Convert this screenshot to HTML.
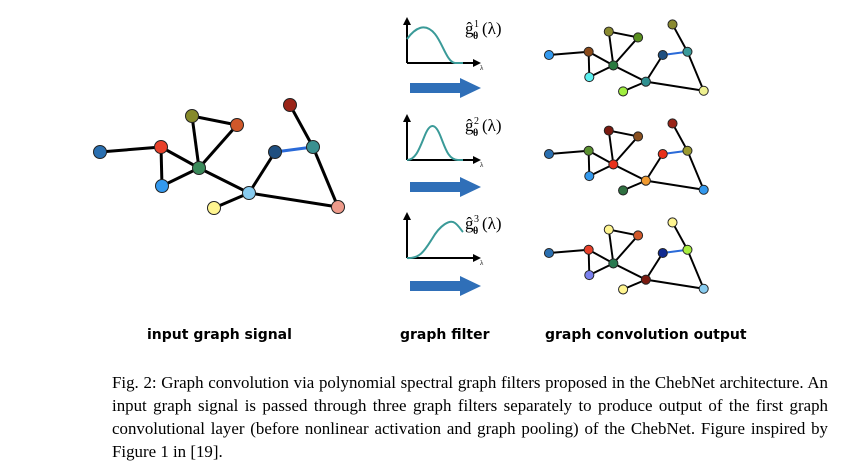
<!DOCTYPE html>
<html><head><meta charset="utf-8"><style>
body{margin:0;background:#fff;width:850px;height:473px;overflow:hidden;position:relative}
.lab{position:absolute;top:327px;font-family:"DejaVu Sans","Liberation Sans",sans-serif;font-weight:bold;font-size:14px;color:#000}
.cap{position:absolute;left:112px;top:371px;width:716px;font-family:"Liberation Serif",serif;font-size:16.9px;line-height:23px;text-align:justify;color:#000}
</style></head><body>
<svg width="850" height="473" style="position:absolute;left:0;top:0">
<defs>
<g id="edges" stroke="#000" stroke-width="3" fill="none">
<line x1="100" y1="152" x2="161" y2="147"/><line x1="161" y1="147" x2="199" y2="168"/>
<line x1="161" y1="147" x2="162" y2="186"/><line x1="162" y1="186" x2="199" y2="168"/>
<line x1="192" y1="116" x2="199" y2="168"/><line x1="192" y1="116" x2="237" y2="125"/>
<line x1="237" y1="125" x2="199" y2="168"/><line x1="199" y1="168" x2="249" y2="193"/>
<line x1="249" y1="193" x2="214" y2="208"/><line x1="249" y1="193" x2="338" y2="207"/>
<line x1="249" y1="193" x2="275" y2="152"/><line x1="313" y1="147" x2="290" y2="105"/>
<line x1="313" y1="147" x2="338" y2="207"/>
<line x1="275" y1="152" x2="313" y2="147" stroke="#2a6ad8"/>
</g>
</defs>
<use href="#edges"/>
<g stroke="#222" stroke-width="1">
<circle cx="100" cy="152" r="6.5" fill="#2a6fb0"/><circle cx="161" cy="147" r="6.5" fill="#e8412a"/>
<circle cx="192" cy="116" r="6.5" fill="#868a2a"/><circle cx="237" cy="125" r="6.5" fill="#d0582a"/>
<circle cx="199" cy="168" r="6.5" fill="#3a8a5a"/><circle cx="162" cy="186" r="6.5" fill="#3399ee"/>
<circle cx="249" cy="193" r="6.5" fill="#88ccf0"/><circle cx="214" cy="208" r="6.5" fill="#fff590"/>
<circle cx="275" cy="152" r="6.5" fill="#1f4f80"/><circle cx="313" cy="147" r="6.5" fill="#3a9090"/>
<circle cx="290" cy="105" r="6.5" fill="#9a2418"/><circle cx="338" cy="207" r="6.5" fill="#ee9a8a"/>
</g>
<g transform="translate(484,-43.8) scale(0.65)">
<use href="#edges"/>
<g stroke="#222" stroke-width="1.5">
<circle cx="100" cy="152" r="7" fill="#3399ee"/><circle cx="161" cy="147" r="7" fill="#8a4a1a"/>
<circle cx="192" cy="116" r="7" fill="#8a8a30"/><circle cx="237" cy="125" r="7" fill="#5a9020"/>
<circle cx="199" cy="168" r="7" fill="#2a7a40"/><circle cx="162" cy="186" r="7" fill="#5af0f0"/>
<circle cx="249" cy="193" r="7" fill="#2f9090"/><circle cx="214" cy="208" r="7" fill="#a0ee40"/>
<circle cx="275" cy="152" r="7" fill="#1f4f80"/><circle cx="313" cy="147" r="7" fill="#3a9a9a"/>
<circle cx="290" cy="105" r="7" fill="#8a8a30"/><circle cx="338" cy="207" r="7" fill="#eef090"/>
</g></g>
<g transform="translate(484,55.2) scale(0.65)">
<use href="#edges"/>
<g stroke="#222" stroke-width="1.5">
<circle cx="100" cy="152" r="7" fill="#2a6fb0"/><circle cx="161" cy="147" r="7" fill="#5a9030"/>
<circle cx="192" cy="116" r="7" fill="#7a1a10"/><circle cx="237" cy="125" r="7" fill="#8a5020"/>
<circle cx="199" cy="168" r="7" fill="#e8301a"/><circle cx="162" cy="186" r="7" fill="#3399ee"/>
<circle cx="249" cy="193" r="7" fill="#f09a30"/><circle cx="214" cy="208" r="7" fill="#2f7040"/>
<circle cx="275" cy="152" r="7" fill="#e8301a"/><circle cx="313" cy="147" r="7" fill="#9a9a30"/>
<circle cx="290" cy="105" r="7" fill="#9a2418"/><circle cx="338" cy="207" r="7" fill="#3399ee"/>
</g></g>
<g transform="translate(484,154.2) scale(0.65)">
<use href="#edges"/>
<g stroke="#222" stroke-width="1.5">
<circle cx="100" cy="152" r="7" fill="#2a6fb0"/><circle cx="161" cy="147" r="7" fill="#e8412a"/>
<circle cx="192" cy="116" r="7" fill="#fff590"/><circle cx="237" cy="125" r="7" fill="#d0582a"/>
<circle cx="199" cy="168" r="7" fill="#2a7a50"/><circle cx="162" cy="186" r="7" fill="#7a80ee"/>
<circle cx="249" cy="193" r="7" fill="#7a1a10"/><circle cx="214" cy="208" r="7" fill="#fff590"/>
<circle cx="275" cy="152" r="7" fill="#102a90"/><circle cx="313" cy="147" r="7" fill="#a8ee40"/>
<circle cx="290" cy="105" r="7" fill="#fff590"/><circle cx="338" cy="207" r="7" fill="#88ccf0"/>
</g></g>
<g>
<g stroke="#000" stroke-width="2" fill="#000">
<line x1="407" y1="63" x2="475" y2="63"/><polygon points="481,63 473,59 473,67" stroke="none"/>
<line x1="407" y1="63" x2="407" y2="23"/><polygon points="407,17 403,25 411,25" stroke="none"/>
</g>
<path d="M407,39 C415,28 425,22 435,34 C443,44 447,62 455,63 L463,63" stroke="#3a9a98" stroke-width="2" fill="none"/>
<text x="480" y="70" font-family="Liberation Serif,serif" font-size="7">λ</text>
<path d="M410,83 L460,83 L460,78 L481,88 L460,98 L460,93 L410,93 Z" fill="#2f6fb8"/>
</g>
<g transform="translate(0,97)">
<g stroke="#000" stroke-width="2" fill="#000">
<line x1="407" y1="63" x2="475" y2="63"/><polygon points="481,63 473,59 473,67" stroke="none"/>
<line x1="407" y1="63" x2="407" y2="23"/><polygon points="407,17 403,25 411,25" stroke="none"/>
</g>
<path d="M407,63 C416,63 420,50 425,38 C430,26 435,26 440,38 C445,50 448,63 458,63 L463,63" stroke="#3a9a98" stroke-width="2" fill="none"/>
<text x="480" y="70" font-family="Liberation Serif,serif" font-size="7">λ</text>
<path d="M410,85 L460,85 L460,80 L481,90 L460,100 L460,95 L410,95 Z" fill="#2f6fb8"/>
</g>
<g transform="translate(0,195)">
<g stroke="#000" stroke-width="2" fill="#000">
<line x1="407" y1="63" x2="475" y2="63"/><polygon points="481,63 473,59 473,67" stroke="none"/>
<line x1="407" y1="63" x2="407" y2="23"/><polygon points="407,17 403,25 411,25" stroke="none"/>
</g>
<path d="M407,63 C420,64 425,55 432,44 C440,30 450,24 455,28 C459,31 461,35 463,37" stroke="#3a9a98" stroke-width="2" fill="none"/>
<text x="480" y="70" font-family="Liberation Serif,serif" font-size="7">λ</text>
<path d="M410,86 L460,86 L460,81 L481,91 L460,101 L460,96 L410,96 Z" fill="#2f6fb8"/>
</g>
<g font-family="Liberation Serif,serif" font-size="17" fill="#000">
<text x="465" y="34">ĝ</text><text x="474" y="27" font-size="10">1</text><text x="473" y="39" font-size="10" font-weight="bold">θ</text><text x="482" y="34">(λ)</text>
<text x="465" y="131">ĝ</text><text x="474" y="124" font-size="10">2</text><text x="473" y="136" font-size="10" font-weight="bold">θ</text><text x="482" y="131">(λ)</text>
<text x="465" y="229">ĝ</text><text x="474" y="222" font-size="10">3</text><text x="473" y="234" font-size="10" font-weight="bold">θ</text><text x="482" y="229">(λ)</text>
</g>
</svg>
<div class="lab" style="left:147px">input graph signal</div>
<div class="lab" style="left:400px">graph filter</div>
<div class="lab" style="left:545px">graph convolution output</div>
<div class="cap">Fig. 2: Graph convolution via polynomial spectral graph filters proposed in the ChebNet architecture. An input graph signal is passed through three graph filters separately to produce output of the first graph convolutional layer (before nonlinear activation and graph pooling) of the ChebNet. Figure inspired by Figure 1 in [19].</div>
</body></html>
